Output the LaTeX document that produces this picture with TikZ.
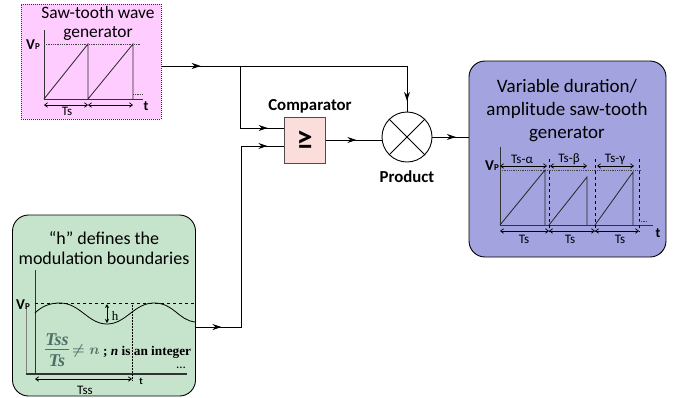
\documentclass[tikz,border=0pt]{standalone}
\usepackage{fontspec}
\usepackage{amsmath}
\setmainfont{Carlito}
\newfontfamily\serifbf{Liberation Serif}
\usetikzlibrary{arrows.meta,decorations.markings,calc}
\definecolor{pinkfill}{HTML}{FFCCFF}
\definecolor{greenfill}{HTML}{C6E3CC}
\definecolor{bluefill}{HTML}{A3A3DF}
\definecolor{compfill}{HTML}{FBDEDC}
\definecolor{fracgray}{HTML}{4F6F68}
\newcommand{\vpeak}{\textbf{\fontsize{15}{15}\selectfont V}\textbf{\fontsize{9}{9}\selectfont P}}
\tikzset{
  wire/.style={line width=0.9pt,draw=black},
  arrowat/.style={postaction={decorate},decoration={markings,mark=at position #1 with {\arrow{Stealth[length=9pt,width=6pt]}}}},
  arrowtwo/.style 2 args={postaction={decorate},decoration={markings,mark=at position #1 with {\arrow{Stealth[length=9pt,width=6pt]}},mark=at position #2 with {\arrow{Stealth[length=9pt,width=6pt]}}}},
  panel/.style={draw=black,line width=0.9pt,rounded corners=16pt,inner sep=0pt},
  ttlp/.style={font=\fontsize{17.4}{17.4}\selectfont,inner sep=0pt},
  ttlg/.style={font=\fontsize{18}{18}\selectfont,inner sep=0pt},
  ttlb/.style={font=\fontsize{19}{19}\selectfont,inner sep=0pt},
  lbl/.style={font=\fontsize{13}{13}\selectfont,inner sep=0pt},
  lblb/.style={font=\fontsize{14}{14}\selectfont\bfseries,inner sep=0pt},
  capt/.style={font=\fontsize{16.8}{16.8}\selectfont\bfseries,inner sep=0pt},
  fracs/.style={inner sep=0pt,text=fracgray,font=\serifbf\bfseries\itshape\fontsize{18}{18}\selectfont},
  axis/.style={line width=1pt,draw=black!80},
  tooth/.style={line width=0.8pt,draw=black!85},
  dim/.style={line width=0.7pt,{Straight Barb[length=3pt,width=4.5pt]}-{Straight Barb[length=3pt,width=4.5pt]}},
  dots/.style={line width=0.8pt,densely dotted,draw=black!75}
}
\begin{document}
\begin{tikzpicture}[x=1pt,y=-1pt]
\useasboundingbox (0,0) rectangle (679,397);
% pink panel
\node[draw=black!80,densely dotted,line width=1pt,fill=pinkfill,minimum width=140pt,minimum height=115pt,inner sep=0pt] (pink) at (91,61.5) {};
\node[ttlp] (pt1) at (98,13) {Saw-tooth wave};
\node[ttlp] (pt2) at (98,33) {generator};
\draw[axis] (44,30) -- (44,99) -- (143,99);
\draw[dots] (44,44) -- (140,44);
\draw[tooth] (44,99) -- (88,44) -- (88,99) -- (133,44) -- (133,99);
\draw[dots] (133,94) -- (143,94);
\draw[dim] (44,105) -- (88,105);
\draw[dim] (88,105) -- (133,105);
\node[inner sep=0pt] (pvp) at (33,45) {\vpeak};
\node[lbl] (pts) at (67,111.5) {Ts};
\node[lblb] (pt) at (146,106) {t};
% green panel
\node[panel,fill=greenfill,minimum width=183pt,minimum height=181pt] (green) at (104,305.5) {};
\node[ttlg] (gt1) at (104,238) {“h” defines the};
\node[ttlg] (gt2) at (104,258) {modulation boundaries};
\draw[axis,black!50] (26,305) -- (26,374);
\draw[axis] (35,270) -- (35,374);
\draw[axis,line width=1.3pt] (26,374) -- (187,374);
\draw[line width=0.8pt,dashed] (35,303) -- (195,303);
\draw[line width=0.8pt] (35,313) .. controls (42,306) and (50,303) .. (60,303)
  .. controls (80,303) and (88,324) .. (107,324)
  .. controls (126,324) and (134,303) .. (154,303)
  .. controls (174,303) and (178,320) .. (195,322);
\draw[line width=0.5pt,densely dotted] (132,303) -- (132,380);
\draw[line width=0.8pt,{Stealth[length=4pt,width=4pt]}-{Stealth[length=4pt,width=4pt]}] (107,304) -- (107,323);
\node[inner sep=0pt,font=\serifbf\fontsize{13}{13}\selectfont] (gh) at (115,316) {h};
\node[fracs] (gf1) at (57,340) {Tss};
\node[fracs] (gf2) at (57,361) {Ts};
\draw[line width=1pt,draw=fracgray] (45,349.5) -- (69,349.5);
\node[inner sep=0pt,text=fracgray,font=\fontsize{14}{14}\selectfont,anchor=west] (gne) at (72,351) {$\boldsymbol{\neq n}$};
\node[inner sep=0pt,font=\serifbf\bfseries\fontsize{13.3}{13.3}\selectfont,anchor=west] (gi) at (103,352) {; \textit{n} is an integer};
\node[lbl] (gdots) at (181,368) {...};
\draw[dim,line width=0.8pt] (35,379) -- (132,379);
\node[lbl] (gts) at (85,390) {Tss};
\node[inner sep=0pt,font=\fontsize{10}{10}\selectfont\bfseries] (gt) at (141,381) {t};
\node[inner sep=0pt] (gvp) at (23,305) {\vpeak};
% blue panel
\node[panel,fill=bluefill,minimum width=197pt,minimum height=196pt] (blue) at (567.5,159) {};
\node[ttlb] (bt1) at (567,86) {Variable duration/};
\node[ttlb] (bt2) at (567,110) {amplitude saw-tooth};
\node[ttlb] (bt3) at (567,134) {generator};
\draw[axis] (500,147) -- (500,225) -- (653,225);
\draw[dots] (500,170) -- (642,170);
\draw[tooth] (500,225) -- (545,170) -- (545,225);
\draw[tooth] (549,225) -- (587,177) -- (587,225);
\draw[tooth] (595,225) -- (633,172) -- (633,225);
\draw[line width=0.9pt,dashed] (549,159) -- (549,232);
\draw[line width=0.9pt,dashed] (595,159) -- (595,232);
\draw[line width=0.9pt,dashed] (639,159) -- (639,232);
\draw[dots] (639,221) -- (647,221);
\draw[dim] (500,166) -- (547,166);
\draw[dim] (550,166) -- (587,166);
\draw[dim] (597,166) -- (634,166);
\draw[dim] (500,231) -- (549,231);
\draw[dim] (549,231) -- (595,231);
\draw[dim] (595,231) -- (639,231);
\node[lbl] (ba) at (522,159) {Ts-α};
\node[lbl] (bb) at (569,159) {Ts-β};
\node[lbl] (bc) at (615,159) {Ts-γ};
\node[lbl] (bs1) at (524,239) {Ts};
\node[lbl] (bs2) at (570,239) {Ts};
\node[lbl] (bs3) at (620,239) {Ts};
\node[lblb] (bt) at (658,233) {t};
\node[inner sep=0pt] (bvp) at (492,166) {\vpeak};
% comparator
\node[draw=black!70,line width=1pt,fill=compfill,minimum width=41pt,minimum height=46pt,inner sep=0pt,font=\fontsize{32}{32}\selectfont\bfseries] (comp) at (304.5,140) {≥};
\node[capt] (compl) at (310,106) {Comparator};
% product
\node[draw=black,line width=0.9pt,circle,fill=white,minimum size=50pt,inner sep=0pt] (prod) at (407,137) {};
\draw[line width=0.8pt] (prod.45) -- (prod.225) (prod.135) -- (prod.315);
\node[capt] (prodl) at (407,177) {Product};
% connectors
\coordinate (bend1) at (prod.north |- 0,66);
\coordinate (tap) at (240,66);
\coordinate (bend2) at (241,327);
\draw[wire,arrowat=0.5] ([yshift=-4.5pt]pink.east) -- (tap);
\draw[wire,arrowat=0.95] (tap) -- (bend1) -- (prod.north);
\draw[wire,arrowat=0.85] (tap) |- ([yshift=12pt]comp.west);
\draw[wire,arrowtwo={0.095}{0.94}] ([yshift=-21.5pt]green.east) -- (bend2) |- ([yshift=-6pt]comp.west);
\draw[wire,arrowat=0.55] (comp.east) -- ([yshift=-3pt]prod.west);
\draw[wire,arrowat=0.65] (prod.east) -- ([yshift=22pt]blue.west);
\end{tikzpicture}
\end{document}
